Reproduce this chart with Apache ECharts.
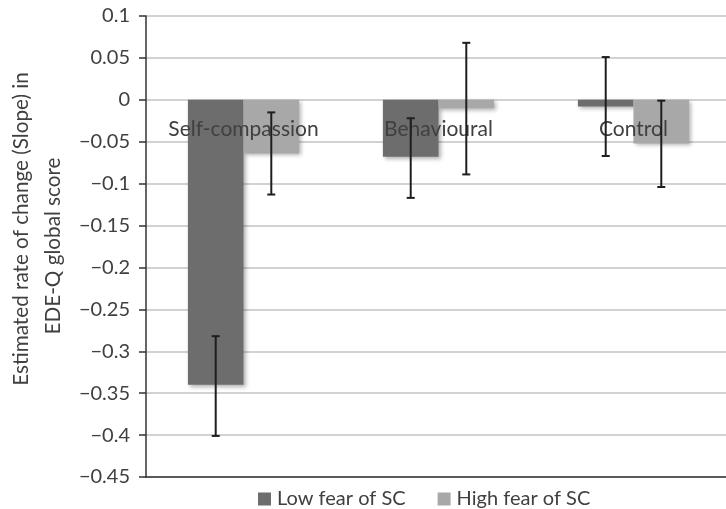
<!DOCTYPE html>
<html>
<head>
<meta charset="utf-8">
<script src="https://cdn.jsdelivr.net/npm/echarts@6/dist/echarts.min.js"></script>
<style>html,body{margin:0;padding:0;background:#fff;}#main{width:726px;height:509px;}</style>
</head>
<body>
<div id="main"></div>
<script>
const categories = ['Self-compassion', 'Behavioural', 'Control'];
const seriesNames = ['Low fear of SC', 'High fear of SC'];
const lowFear = [-0.340, -0.068, -0.008];
const highFear = [-0.064, -0.010, -0.052];
const lowFearErrLow = [-0.401, -0.117, -0.067];
const lowFearErrHigh = [-0.282, -0.022, 0.051];
const highFearErrLow = [-0.113, -0.089, -0.104];
const highFearErrHigh = [-0.015, 0.068, -0.001];
const yTicks = { min: -0.45, max: 0.1, interval: 0.05 };
const yTitleLines = ['Estimated rate of change (Slope) in', 'EDE-Q global score'];

const FONT = 'Lato';
const TXT = '#404040';
const catGap = 0.43;
const barFrac = (1 - catGap) / 2;

const errData = [];
categories.forEach(function (c, i) {
  errData.push([i, lowFearErrLow[i], lowFearErrHigh[i], -1]);
  errData.push([i, highFearErrLow[i], highFearErrHigh[i], 1]);
});

function renderErr(params, api) {
  const idx = api.value(0);
  const lo = api.value(1);
  const hi = api.value(2);
  const sign = api.value(3);
  const band = api.size([1, 0])[0];
  const x = api.coord([idx, 0])[0] + sign * band * barFrac / 2;
  const y1 = api.coord([idx, lo])[1];
  const y2 = api.coord([idx, hi])[1];
  const cap = 4;
  const style = { stroke: '#1e1e1e', lineWidth: 2 };
  return {
    type: 'group',
    children: [
      { type: 'line', shape: { x1: x, y1: y1, x2: x, y2: y2 }, style: style },
      { type: 'line', shape: { x1: x - cap, y1: y1, x2: x + cap, y2: y1 }, style: style },
      { type: 'line', shape: { x1: x - cap, y1: y2, x2: x + cap, y2: y2 }, style: style }
    ]
  };
}

const chart = echarts.init(document.getElementById('main'), null, { renderer: 'canvas' });
const shadow = { shadowColor: 'rgba(0,0,0,0.3)', shadowBlur: 4, shadowOffsetX: 2, shadowOffsetY: 2 };
chart.setOption({
  animation: false,
  textStyle: { fontFamily: FONT },
  grid: { left: 146, top: 16, height: 461, width: 585, containLabel: false, outerBoundsMode: 'none' },
  graphic: [
    {
      type: 'text', x: 21, y: 229, rotation: Math.PI / 2, silent: true,
      style: { text: yTitleLines[0], font: '20.7px Lato', fill: TXT, align: 'center', verticalAlign: 'middle' }
    },
    {
      type: 'text', x: 53, y: 246, rotation: Math.PI / 2, silent: true,
      style: { text: yTitleLines[1], font: '20.7px Lato', fill: TXT, align: 'center', verticalAlign: 'middle' }
    }
  ],
  legend: {
    data: seriesNames,
    left: 258,
    top: 489,
    padding: 0,
    icon: 'rect',
    itemWidth: 13,
    itemHeight: 13,
    itemGap: 32,
    textStyle: { fontFamily: FONT, fontSize: 20, color: TXT, padding: [0, 0, 0, 1] }
  },
  xAxis: {
    type: 'category',
    data: categories,
    position: 'bottom',
    z: 3,
    axisLine: { show: true, onZero: false, lineStyle: { color: '#333', width: 1.5 } },
    axisTick: { show: false },
    axisLabel: { show: true, interval: 0, hideOverlap: false, fontFamily: FONT, fontSize: 21, color: TXT, margin: -358 },
    splitLine: { show: false }
  },
  yAxis: {
    type: 'value',
    min: yTicks.min,
    max: yTicks.max,
    interval: yTicks.interval,
    axisLine: { show: true, onZero: false, lineStyle: { color: '#333', width: 1.5 } },
    axisTick: { show: true, inside: false, length: 7, lineStyle: { color: '#333', width: 1.5 } },
    axisLabel: {
      fontFamily: FONT, fontSize: 20, color: TXT, margin: 16,
      formatter: function (v) {
        const s = String(Math.round(v * 100) / 100);
        return s.replace('-', '\u2212');
      }
    },
    splitLine: { show: true, lineStyle: { color: '#c3c3c3', width: 1.5 } }
  },
  series: [
    {
      name: seriesNames[0], type: 'bar', data: lowFear,
      barGap: '0%', barCategoryGap: (catGap * 100) + '%',
      itemStyle: Object.assign({ color: '#6d6d6d' }, shadow)
    },
    {
      name: seriesNames[1], type: 'bar', data: highFear,
      barGap: '0%', barCategoryGap: (catGap * 100) + '%',
      itemStyle: Object.assign({ color: '#a8a8a8' }, shadow)
    },
    {
      name: 'err', type: 'custom', renderItem: renderErr,
      data: errData, encode: { x: 0, y: [1, 2] }, z: 10
    }
  ]
});
</script>
</body>
</html>
